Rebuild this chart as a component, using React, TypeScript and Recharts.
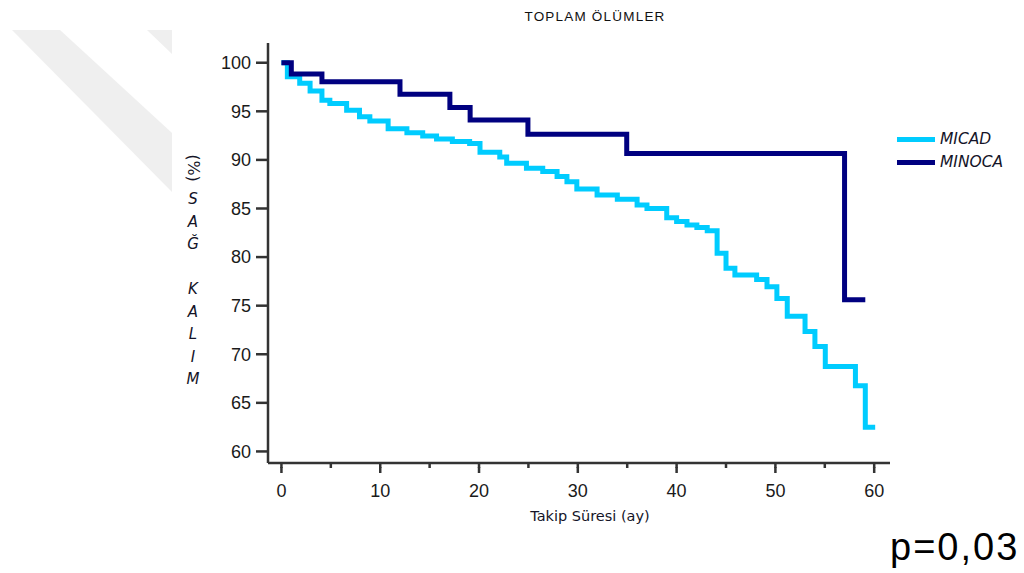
import { LineChart, Line, XAxis, YAxis, Legend } from 'recharts'

// Kaplan-Meier steps (months, % survival)
const micadMonths = [
  0, 0.6, 1.85, 2.9, 4.1, 4.9, 6.6, 7.9, 8.95, 10.8, 12.7, 14.3, 15.7, 17.3, 19.05,
  20.1, 22.1, 22.8, 24.8, 26.45, 27.9, 28.9, 29.9, 31.95, 34.0, 36.0, 37.0, 39.0, 40.0,
  41.05, 42.05, 43.1, 44.1, 45.0, 45.9, 48.1, 49.15, 50.15, 51.2, 53.0, 54.0, 55.05,
  58.1, 59.1, 60.1,
]
const micadSurvival = [
  100, 98.55, 97.9, 97.1, 96.15, 95.8, 95.1, 94.45, 94.0, 93.2, 92.8, 92.45, 92.15, 91.9,
  91.7, 90.8, 90.3, 89.65, 89.15, 88.8, 88.3, 87.75, 87.0, 86.4, 85.95, 85.35, 85.0,
  84.05, 83.65, 83.3, 83.05, 82.7, 80.4, 78.85, 78.15, 77.7, 76.95, 75.75, 73.9, 72.35,
  70.8, 68.75, 66.75, 62.5, 62.5,
]
const minocaMonths = [0, 1.0, 4.1, 12.0, 17.05, 19.1, 24.95, 34.95, 57.0, 59.1]
const minocaSurvival = [100, 98.85, 98.05, 96.75, 95.4, 94.1, 92.65, 90.65, 75.6, 75.6]

const monthTicks = [0, 5, 10, 15, 20, 25, 30, 35, 40, 45, 50, 55, 60]
const survivalTicks = [60, 65, 70, 75, 80, 85, 90, 95, 100]
const yLabelLetters = ['S', 'A', 'Ğ', '', 'K', 'A', 'L', 'I', 'M']

const micadData = micadMonths.map((t, i) => ({ t, s: micadSurvival[i] }))
const minocaData = minocaMonths.map((t, i) => ({ t, s: minocaSurvival[i] }))

const axisColor = '#333333'
const tickFont = '"Liberation Sans", Arial, sans-serif'
const labelFont = '"DejaVu Sans", sans-serif'
const labelColor = '#141428'

function MonthTick({ x, y, payload }: any) {
  // minor ticks are drawn by the axis itself, majors get extra length and a label
  if (payload.value % 10 !== 0) return null
  return (
    <g>
      <line x1={x} x2={x} y1={y - 1} y2={y + 5} stroke={axisColor} strokeWidth={2.5} />
      <text x={x} y={y + 29} textAnchor="middle" fontFamily={tickFont} fontSize={18} fill="#1a1a1a">
        {payload.value}
      </text>
    </g>
  )
}

function SeriesLegend({ payload }: any) {
  return (
    <div>
      {(payload || []).map((entry: any) => (
        <div key={entry.value} style={{ display: 'flex', alignItems: 'center', height: 23 }}>
          <span style={{ width: 38, height: 5, background: entry.color, display: 'inline-block' }} />
          <span
            style={{
              marginLeft: 5,
              fontStyle: 'italic',
              fontFamily: labelFont,
              fontSize: 15.5,
              color: labelColor,
              lineHeight: '23px',
            }}
          >
            {entry.value}
          </span>
        </div>
      ))}
    </div>
  )
}

export default function App() {
  return (
    <div style={{ position: 'absolute', left: 0, top: 0, width: 1024, height: 573, background: '#fff' }}>
      <svg width={1024} height={573} style={{ position: 'absolute', left: 0, top: 0 }}>
        {/* faint watermark band at the top left */}
        <polygon points="12,30 60,30 172,133 172,192" fill="#efefef" />
        <polygon points="147,30 172,30 172,54" fill="#efefef" />

        <text
          x={595}
          y={21}
          textAnchor="middle"
          fontFamily={tickFont}
          fontSize={13.5}
          letterSpacing={1.2}
          fill="#111"
        >
          TOPLAM ÖLÜMLER
        </text>

        <text
          x={193}
          y={168}
          textAnchor="middle"
          dominantBaseline="central"
          transform="rotate(90 193 168)"
          fontFamily={labelFont}
          fontSize={16}
          fill={labelColor}
        >
          (%)
        </text>
        {yLabelLetters.map((ch, i) => (
          <text
            key={i}
            x={193}
            y={204 + i * 22.5}
            textAnchor="middle"
            fontFamily={labelFont}
            fontStyle="italic"
            fontSize={15}
            fill={labelColor}
          >
            {ch}
          </text>
        ))}

        <text x={590} y={521} textAnchor="middle" fontFamily={labelFont} fontSize={14.5} fill={labelColor}>
          Takip Süresi (ay)
        </text>

        <text x={890} y={560} fontFamily={tickFont} fontSize={38} letterSpacing={2} fill="#000">
          p=0,03
        </text>
      </svg>

      <div style={{ position: 'absolute', left: 0, top: 0 }}>
        <LineChart width={1024} height={573} margin={{ top: 43, right: 134, bottom: 70, left: 218 }}>
          <XAxis
            type="number"
            dataKey="t"
            domain={[-1.36, 61.6]}
            allowDataOverflow
            ticks={monthTicks}
            interval={0}
            height={40}
            axisLine={{ stroke: axisColor, strokeWidth: 2.5 }}
            tickLine={{ stroke: axisColor, strokeWidth: 2.5 }}
            tickSize={5}
            tickMargin={0}
            tick={<MonthTick />}
          />
          <YAxis
            type="number"
            dataKey="s"
            domain={[58.81, 102.03]}
            allowDataOverflow
            ticks={survivalTicks}
            interval={0}
            width={50}
            axisLine={{ stroke: axisColor, strokeWidth: 2.5 }}
            tickLine={{ stroke: axisColor, strokeWidth: 2.5 }}
            tickSize={12}
            tickMargin={5}
            tick={{ fontFamily: tickFont, fontSize: 18, fill: '#1a1a1a' }}
          />
          <Legend
            layout="horizontal"
            verticalAlign="middle"
            align="center"
            content={<SeriesLegend />}
            wrapperStyle={{ left: 897, top: 127.5, width: 125 }}
          />
          <Line
            data={micadData}
            dataKey="s"
            name="MICAD"
            type="stepAfter"
            stroke="#00ccff"
            strokeWidth={5}
            dot={false}
            activeDot={false}
            isAnimationActive={false}
          />
          <Line
            data={minocaData}
            dataKey="s"
            name="MINOCA"
            type="stepAfter"
            stroke="#000080"
            strokeWidth={5}
            dot={false}
            activeDot={false}
            isAnimationActive={false}
          />
        </LineChart>
      </div>
    </div>
  )
}
